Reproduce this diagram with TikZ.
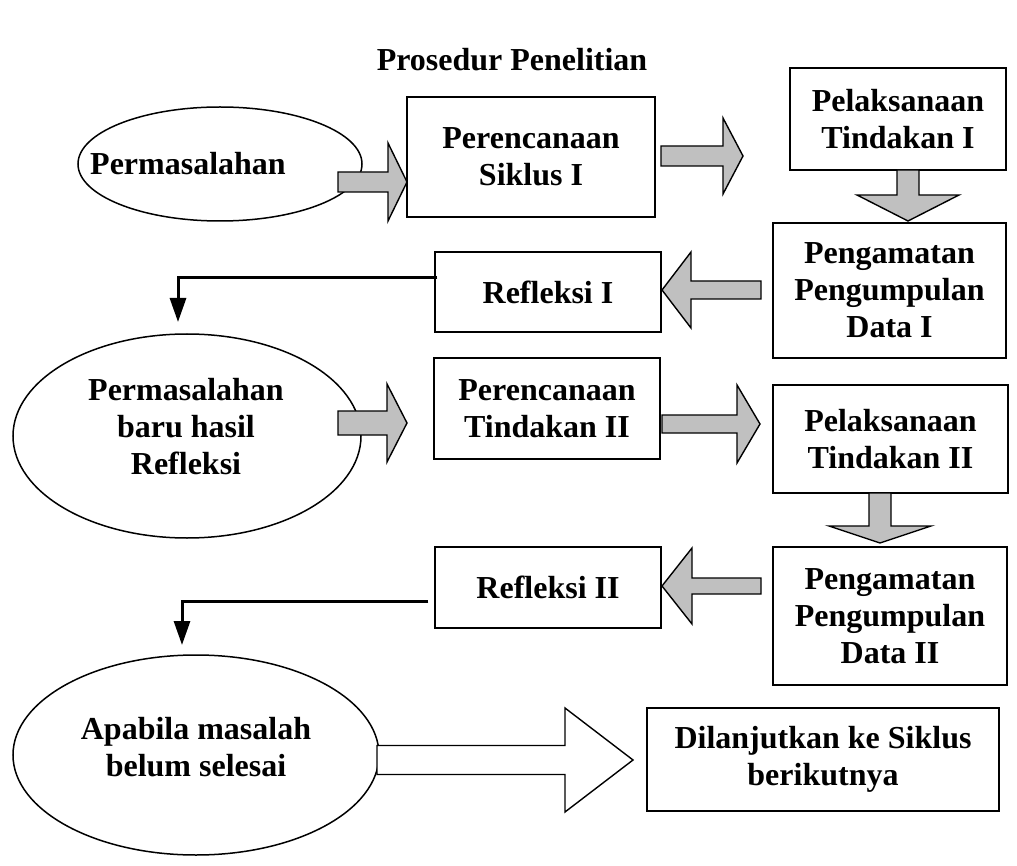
\documentclass[tikz,border=0pt]{standalone}
\usepackage{fontspec}
\setmainfont{Liberation Serif}
\usetikzlibrary{arrows.meta,shapes.geometric}
\definecolor{arrgray}{RGB}{192,192,192}
\tikzset{
  txt/.style={font=\fontsize{32}{37}\selectfont\bfseries, align=center, inner sep=0pt},
  box/.style={txt, draw, line width=1.5pt, rectangle},
  ell/.style={draw, line width=1.5pt, ellipse, inner sep=0pt},
  garr/.style={draw, line width=1.4pt, fill=arrgray, line join=miter},
  warr/.style={draw, line width=1.4pt, fill=white, line join=miter},
  elb/.style={line width=3pt, -{Triangle[width=16pt,length=24pt]}}
}
\newcommand\harr[7]{\draw[#7] (#1,#4-#5) -- (#2,#4-#5) -- (#2,#4-#6) -- (#3,#4) -- (#2,#4+#6) -- (#2,#4+#5) -- (#1,#4+#5) -- cycle;}
\newcommand\varr[7]{\draw[#7] (#4-#5,#1) -- (#4-#5,#2) -- (#4-#6,#2) -- (#4,#3) -- (#4+#6,#2) -- (#4+#5,#2) -- (#4+#5,#1) -- cycle;}
\begin{document}
\begin{tikzpicture}[x=1pt,y=-1pt]
\useasboundingbox (0,0) rectangle (1017,866);
% title
\node[txt] (title) at (512,60) {Prosedur Penelitian};
% ellipses
\node[ell, minimum width=284pt, minimum height=114pt] (e1) at (220,164) {};
\node[txt] (e1t) at (188,164) {Permasalahan};
\node[ell, minimum width=348pt, minimum height=204pt] (e2) at (187,436) {};
\node[txt] (e2t) at (186,427) {Permasalahan\\baru hasil\\Refleksi};
\node[ell, minimum width=366pt, minimum height=200pt] (e3) at (196,755) {};
\node[txt] (e3t) at (196,747) {Apabila masalah\\belum selesai};
% boxes
\node[box, minimum width=248pt, minimum height=120pt] (p1) at (531,157) {Perencanaan\\Siklus I};
\node[box, minimum width=216pt, minimum height=102pt] (l1) at (898,119) {Pelaksanaan\\Tindakan I};
\node[box, minimum width=233pt, minimum height=135pt] (o1) at (889.5,290.5) {Pengamatan\\Pengumpulan\\Data I};
\node[box, minimum width=226pt, minimum height=80pt] (r1) at (548,292) {Refleksi I};
\node[box, minimum width=226pt, minimum height=101pt] (p2) at (547,408.5) {Perencanaan\\Tindakan II};
\node[box, minimum width=235pt, minimum height=108pt] (l2) at (890.5,439) {Pelaksanaan\\Tindakan II};
\node[box, minimum width=234pt, minimum height=138pt] (o2) at (890,616) {Pengamatan\\Pengumpulan\\Data II};
\node[box, minimum width=226pt, minimum height=81pt] (r2) at (548,587.5) {Refleksi II};
\node[box, minimum width=352pt, minimum height=103pt] (d) at (823,759.5) {Dilanjutkan ke Siklus\\berikutnya};
% block arrows
\harr{338}{388}{407}{182}{10}{39}{garr}
\harr{661}{723}{743}{156}{10}{38}{garr}
\varr{170}{195}{221}{908}{11}{51}{garr}
\harr{761}{691}{662}{290}{9}{38}{garr}
\harr{338}{387}{407}{423}{12}{39}{garr}
\harr{662}{737}{760}{424}{9}{39}{garr}
\varr{493}{526}{543}{880}{11}{51}{garr}
\harr{761}{692}{662}{586}{8}{38}{garr}
\harr{377}{565}{633}{760}{14.5}{52}{warr}
% elbow connectors
\coordinate (c1) at (178,322);
\coordinate (c2) at (182,645);
\draw[elb] ([shift={(3pt,14pt)}]r1.west) -| (c1);
\draw[elb] ([shift={(-6pt,-13.5pt)}]r2.west) -| (c2);
\end{tikzpicture}
\end{document}
